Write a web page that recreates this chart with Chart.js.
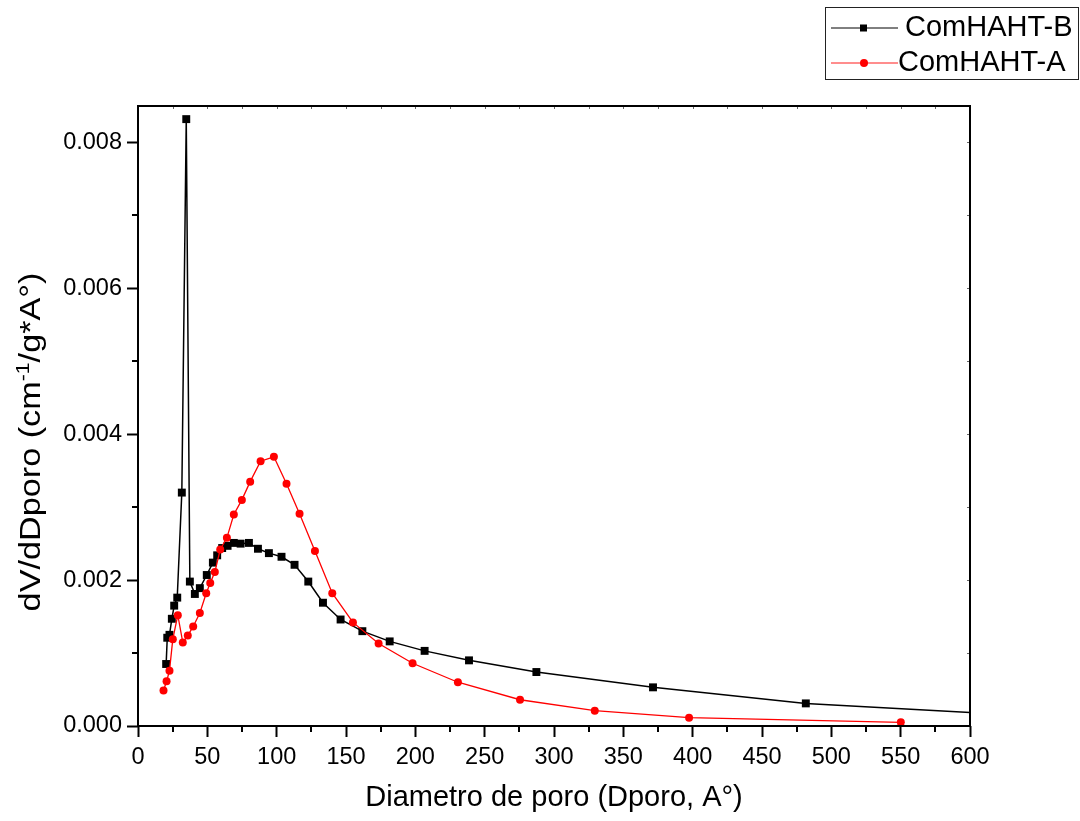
<!DOCTYPE html>
<html><head><meta charset="utf-8">
<script src="https://cdn.jsdelivr.net/npm/chart.js@4.4.1/dist/chart.umd.min.js"></script>
<style>
html,body{margin:0;padding:0;background:#fff;}
#wrap{position:relative;width:1080px;height:821px;}
#legend{position:absolute;left:825px;top:7px;width:254px;height:73px;border:1px solid #222;box-sizing:border-box;font-family:'Liberation Sans',Arial,sans-serif;}
#legend .s{position:absolute;left:5px;width:67px;height:14px;}
#legend .t{position:absolute;font-size:29px;line-height:30px;color:#000;white-space:nowrap;}
</style></head>
<body>
<div id="wrap">
<canvas id="c" width="1080" height="821"></canvas>
<div id="legend">
  <svg class="s" style="top:13px" width="67" height="14"><line x1="0" y1="7" x2="67" y2="7" stroke="#000" stroke-width="1"/><rect x="29" y="3.5" width="7" height="7" fill="#000"/></svg>
  <div class="t" id="lb" style="left:79px;top:3px"></div>
  <svg class="s" style="top:48px" width="67" height="14"><line x1="0" y1="7" x2="67" y2="7" stroke="#ff0000" stroke-opacity="0.6" stroke-width="1.5"/><circle cx="33" cy="7" r="4" fill="#ff0000"/></svg>
  <div class="t" id="la" style="left:72px;top:38px"></div>
</div>
</div>
<script>
const seriesNames = ['ComHAHT-B', 'ComHAHT-A'];
const xTitle = 'Diametro de poro (Dporo, A°)';
const yTitleParts = ['dV/dDporo (cm', '-1', '/g*A°)'];

const xTicks = [0, 50, 100, 150, 200, 250, 300, 350, 400, 450, 500, 550, 600];
const yTicks = [0, 0.002, 0.004, 0.006, 0.008];

const xB = [20.3, 21.1, 22.7, 24.4, 26.1, 28.3, 31.6, 34.8, 37.4, 41.0, 44.6, 49.6, 54.0, 57.1, 60.7, 64.6, 69.1, 74.0, 80.0, 86.5, 94.4, 103.5, 112.9, 122.8, 133.4, 146.1, 161.8, 181.5, 206.7, 238.7, 287.3, 371.4, 481.6, 680];
const yB = [0.00085, 0.00121, 0.00125, 0.00147, 0.00165, 0.00176, 0.0032, 0.00832, 0.00198, 0.00181, 0.00189, 0.00207, 0.00224, 0.00234, 0.00244, 0.00247, 0.00251, 0.0025, 0.00251, 0.00243, 0.00237, 0.00232, 0.00221, 0.00198, 0.00169, 0.00146, 0.0013, 0.00116, 0.00103, 0.0009, 0.00074, 0.00053, 0.00031, 0.0001];

const xA = [18.4, 20.6, 22.7, 25.1, 28.7, 32.3, 35.9, 39.8, 44.6, 49.2, 52.1, 55.4, 59.3, 64.1, 69.1, 74.9, 80.9, 88.4, 98.0, 107.1, 116.5, 127.6, 140.1, 155.0, 173.5, 198.0, 230.7, 275.5, 329.4, 397.4, 550.1];
const yA = [0.000486, 0.000614, 0.000756, 0.00119, 0.00152, 0.001145, 0.00124, 0.001365, 0.00155, 0.00182, 0.00196, 0.00211, 0.00242, 0.00258, 0.0029, 0.0031, 0.00335, 0.00363, 0.00369, 0.00332, 0.00291, 0.0024, 0.00182, 0.00142, 0.00113, 0.00086, 0.0006, 0.00036, 0.00021, 0.000114, 0.000051];

document.getElementById('lb').textContent = seriesNames[0];
document.getElementById('la').textContent = seriesNames[1];

const FONT = "'Liberation Sans', Arial, sans-serif";

const framePlugin = {
  id: 'frame',
  afterDraw(chart) {
    const {ctx, chartArea: a, scales: {x, y}} = chart;
    ctx.save();
    ctx.strokeStyle = '#000';
    ctx.lineWidth = 2;
    ctx.strokeRect(a.left, a.top, a.right - a.left, a.bottom - a.top);
    ctx.beginPath();
    for (let i = 0; i < xTicks.length - 1; i++) {
      const px = Math.round(x.getPixelForValue((xTicks[i] + xTicks[i + 1]) / 2));
      ctx.moveTo(px, a.bottom); ctx.lineTo(px, a.bottom + 6);
    }
    for (let i = 0; i < yTicks.length - 1; i++) {
      const py = Math.round(y.getPixelForValue((yTicks[i] + yTicks[i + 1]) / 2));
      ctx.moveTo(a.left, py); ctx.lineTo(a.left - 6, py);
    }
    ctx.stroke();
    // small inner ticks on top and right
    ctx.lineWidth = 1;
    ctx.strokeStyle = '#666';
    ctx.beginPath();
    for (let i = 1; i < (xTicks.length - 1) * 2; i++) {
      const v = xTicks[0] + i * (xTicks[1] - xTicks[0]) / 2;
      const px = Math.round(x.getPixelForValue(v)) + 0.5;
      ctx.moveTo(px, a.top + 1); ctx.lineTo(px, a.top + 3);
    }
    for (let i = 1; i < (yTicks.length) * 2; i++) {
      const v = yTicks[0] + i * (yTicks[1] - yTicks[0]) / 2;
      const py = Math.round(y.getPixelForValue(v)) + 0.5;
      ctx.moveTo(a.right - 1, py); ctx.lineTo(a.right - 3, py);
    }
    ctx.stroke();
    // y title with superscript
    const big = 'normal 29px ' + FONT, small = 'normal 18px ' + FONT;
    ctx.fillStyle = '#000';
    ctx.font = big;
    const w0 = ctx.measureText(yTitleParts[0]).width;
    const w2 = ctx.measureText(yTitleParts[2]).width;
    ctx.font = small;
    const w1 = ctx.measureText(yTitleParts[1]).width;
    const total = w0 + w1 + w2;
    const cy = (a.top + a.bottom) / 2 + 26;
    ctx.translate(40, cy);
    ctx.rotate(-Math.PI / 2);
    ctx.scale(1.18, 1);
    ctx.textBaseline = 'alphabetic';
    ctx.textAlign = 'left';
    let sx = -total / 2;
    ctx.font = big; ctx.fillText(yTitleParts[0], sx, 0); sx += w0;
    ctx.font = small; ctx.fillText(yTitleParts[1], sx, -11); sx += w1;
    ctx.font = big; ctx.fillText(yTitleParts[2], sx, 0);
    ctx.restore();
  }
};

new Chart(document.getElementById('c'), {
  type: 'line',
  data: {
    datasets: [
      {
        label: seriesNames[0],
        data: xB.map((v, i) => ({x: v, y: yB[i]})),
        borderColor: '#000', backgroundColor: '#000',
        borderWidth: 1.5, pointStyle: 'rect', pointRadius: 5.6, pointBorderWidth: 0,
        tension: 0, order: 2
      },
      {
        label: seriesNames[1],
        data: xA.map((v, i) => ({x: v, y: yA[i]})),
        borderColor: '#ff0000', backgroundColor: '#ff0000',
        borderWidth: 1.3, pointStyle: 'circle', pointRadius: 4, pointBorderWidth: 0,
        tension: 0, order: 1
      }
    ]
  },
  options: {
    responsive: false,
    animation: false,
    events: [],
    layout: {padding: {top: 106, right: 110, left: 0, bottom: 0}},
    plugins: {legend: {display: false}, tooltip: {enabled: false}},
    scales: {
      x: {
        type: 'linear', min: 0, max: 600,
        afterBuildTicks(s) { s.ticks = xTicks.map(v => ({value: v})); },
        afterFit(s) { s.height = 95; },
        grid: {drawOnChartArea: false, drawTicks: true, tickLength: 11, tickWidth: 2, tickColor: '#000'},
        border: {display: false},
        ticks: {color: '#000', font: {family: FONT, size: 23.5}, padding: 6, maxRotation: 0, autoSkip: false,
          callback: v => String(v)},
        title: {display: true, text: xTitle, color: '#000', font: {family: FONT, size: 29}, padding: {top: 0, bottom: 6}}
      },
      y: {
        type: 'linear', min: 0, max: 0.0085,
        afterBuildTicks(s) { s.ticks = yTicks.map(v => ({value: v})); },
        afterFit(s) { s.width = 138; },
        grid: {drawOnChartArea: false, drawTicks: true, tickLength: 11, tickWidth: 2, tickColor: '#000'},
        border: {display: false},
        ticks: {color: '#000', font: {family: FONT, size: 23.5}, padding: 5, autoSkip: false,
          callback: v => Number(v).toFixed(3)},
        title: {display: false}
      }
    }
  },
  plugins: [framePlugin]
});
</script>
</body></html>
